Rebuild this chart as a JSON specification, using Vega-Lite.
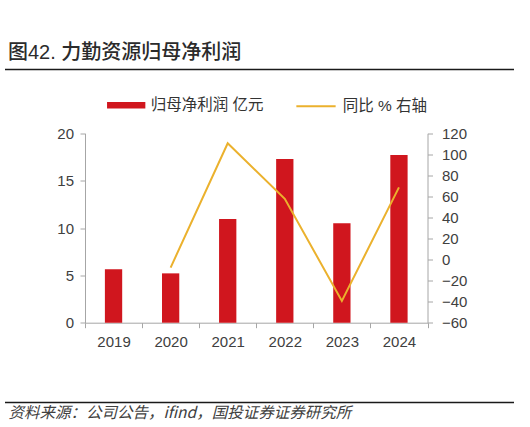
{
  "$schema": "https://vega.github.io/schema/vega-lite/v6.json",
  "width": 509,
  "height": 333,
  "autosize": "none",
  "padding": {"left": 5, "top": 69.5, "right": 16, "bottom": 24.5},
  "view": {"stroke": "#1a1a1a", "strokeWidth": 1.7, "strokeDash": [509, 333], "fill": null},
  "title": {
    "text": "图42. 力勤资源归母净利润",
    "anchor": "start",
    "frame": "group",
    "dx": 3,
    "offset": 7,
    "font": "Liberation Sans, Noto Sans CJK SC",
    "fontSize": 20,
    "fontWeight": 500,
    "color": "#2b2b2b"
  },
  "data": {
    "values": [
      {"year": "2019", "profit": 5.64, "yoy": null},
      {"year": "2020", "profit": 5.21, "yoy": -7.6},
      {"year": "2021", "profit": 10.95, "yoy": 110.5},
      {"year": "2022", "profit": 17.29, "yoy": 57.8},
      {"year": "2023", "profit": 10.49, "yoy": -39.3},
      {"year": "2024", "profit": 17.71, "yoy": 68.6}
    ]
  },
  "encoding": {
    "x": {
      "field": "year",
      "type": "ordinal",
      "scale": {"range": [80, 422.5], "paddingInner": 0, "paddingOuter": 0},
      "axis": {
        "orient": "bottom",
        "offset": -79.8,
        "labelAngle": 0,
        "labelPadding": 7,
        "tickBand": "extent",
        "title": "资料来源：公司公告，ifind，国投证券证券研究所",
        "titleFont": "Noto Sans CJK SC",
        "titleFontStyle": "italic",
        "titleFontWeight": "normal",
        "titleFontSize": 15.5,
        "titleColor": "#404040",
        "titleAnchor": "start",
        "titleAlign": "left",
        "titleBaseline": "middle",
        "titleX": 3,
        "titleY": 89.8
      }
    }
  },
  "layer": [
    {
      "mark": {"type": "bar", "width": {"band": 0.303}},
      "encoding": {
        "y": {
          "field": "profit",
          "type": "quantitative",
          "scale": {"domain": [0, 20], "range": [253.2, 63.8], "nice": false, "zero": true},
          "axis": {"orient": "left", "offset": -80, "values": [0, 5, 10, 15, 20], "labelPadding": 6.5, "title": null}
        },
        "color": {
          "datum": "归母净利润 亿元",
          "scale": {"range": ["#D0161E"]},
          "legend": {
            "orient": "none",
            "legendX": 101.7,
            "legendY": 16.3,
            "title": null,
            "padding": 0,
            "symbolType": "M-1,-0.172H1V0.172H-1Z",
            "symbolSize": 1467,
            "symbolStrokeWidth": 0,
            "labelOffset": 5,
            "labelFontSize": 15.5,
            "labelFont": "Liberation Sans, Noto Sans CJK SC",
            "labelColor": "#333333"
          }
        }
      }
    },
    {
      "mark": {"type": "line", "strokeWidth": 2},
      "encoding": {
        "y": {
          "field": "yoy",
          "type": "quantitative",
          "scale": {"domain": [-60, 120], "range": [253.2, 63.8], "nice": false, "zero": false},
          "axis": {"orient": "right", "offset": -86.5, "values": [-60, -40, -20, 0, 20, 40, 60, 80, 100, 120], "labelPadding": 9, "title": null}
        },
        "stroke": {
          "datum": "同比 % 右轴",
          "scale": {"range": ["#EBB12D"]},
          "legend": {
            "orient": "none",
            "legendX": 290,
            "legendY": 15.8,
            "title": null,
            "padding": 0,
            "symbolType": "stroke",
            "symbolSize": 1544,
            "symbolStrokeWidth": 2,
            "labelOffset": 5.7,
            "labelFontSize": 15.5,
            "labelFont": "Liberation Sans, Noto Sans CJK SC",
            "labelColor": "#333333"
          }
        }
      }
    }
  ],
  "resolve": {"scale": {"y": "independent"}},
  "config": {
    "axis": {
      "labelFont": "Liberation Sans",
      "labelFontSize": 15,
      "labelColor": "#404040",
      "domainColor": "#A6A6A6",
      "tickColor": "#A6A6A6",
      "tickSize": 5,
      "grid": false,
      "domainWidth": 1,
      "tickWidth": 1
    }
  }
}
